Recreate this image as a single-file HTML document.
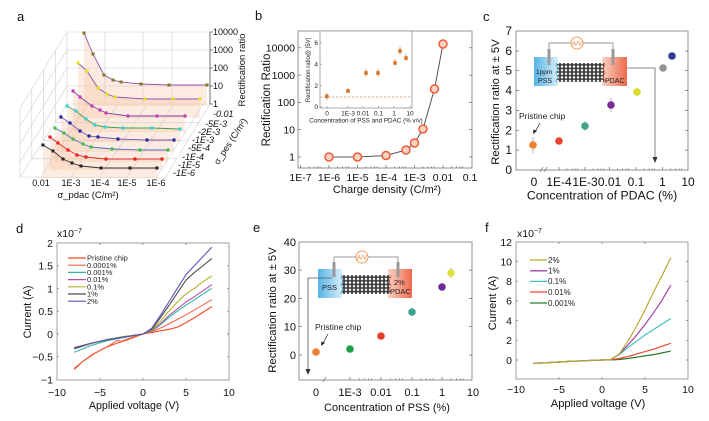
<!DOCTYPE html>
<html><head><meta charset="utf-8"><style>
html,body{margin:0;padding:0;background:#fff;}
svg{display:block;font-family:"Liberation Sans",Arial,sans-serif;}
</style></head><body>
<svg width="709" height="421" viewBox="0 0 709 421" xmlns="http://www.w3.org/2000/svg">
<defs>
<pattern id="hex" width="4" height="3.6" patternUnits="userSpaceOnUse">
<rect width="4" height="3.6" fill="#3a3a3a"/>
<circle cx="2" cy="1.8" r="1.25" fill="#f4f4f4"/>
</pattern>
<linearGradient id="bg" x1="0" x2="1" y1="0" y2="0"><stop offset="0" stop-color="#55b4e6"/><stop offset="1" stop-color="#d8eef9"/></linearGradient>
<linearGradient id="rg" x1="0" x2="1" y1="0" y2="0"><stop offset="0" stop-color="#fbd2c4"/><stop offset="1" stop-color="#ee6a4c"/></linearGradient>
</defs>
<rect width="709" height="421" fill="#fff"/>

<!-- panel letters -->
<g font-size="13" fill="#111">
<text x="17" y="21">a</text>
<text x="255" y="20">b</text>
<text x="483" y="21">c</text>
<text x="16" y="233">d</text>
<text x="253" y="232">e</text>
<text x="485" y="232">f</text>
</g>

<!-- ================= PANEL A ================= -->
<g stroke="#cfcfcf" stroke-width="0.6" fill="none">
<path d="M67 32H210M67 50H210M67 68H210M67 86H210M67 104H210"/>
<path d="M67 32V104M105 32V104M143 32V104M172 32V104M210 32V104"/>
<path d="M67 32L20 108M67 50L20 126M67 68L20 144M67 86L20 162M67 104L20 177"/>
<path d="M20 108V177M55.3 51V122.3M43.5 70V140.5M31.8 89V158.8"/>
<path d="M20 177L165 178M165 178L210 104"/>
<path d="M41 177L88 104M71 177L118 104M100 177L147 104M127 177L174 104M156 178L203 104"/>
<path d="M55.3 122.3L198.8 122.3M43.5 140.5L187.5 140.5M31.8 158.8L176.3 158.8"/>
</g>
<g fill="#f7c2a2" fill-opacity="0.33">
<polygon points="84,33 93,54 104,75 113,80 121,82 141,84 169,85 207,85 207,106 84,106"/>
<polygon points="78,63 87,71 98,88 107,94 115,97 145,99 173,99 200,99 200,118 78,118"/>
<polygon points="73,91 80,97 92,106 100,110 106,113 128,116 157,116 185,116 185,132 73,132"/>
<polygon points="67,106 76,111 86,119 95,125 105,127 123,128 152,128 180,129 180,142 67,142"/>
<polygon points="61,117 70,123 80,131 89,136 98,137 118,139 147,140 174,140 174,152 61,152"/>
<polygon points="55,128 64,133 73,139 83,144 91,147 112,149 140,150 168,150 168,162 55,162"/>
<polygon points="50,137 58,143 68,150 77,155 86,157 106,159 135,159 162,159 162,170 50,170"/>
<polygon points="43,145 53,151 63,159 72,163 81,166 101,168 130,168 157,168 157,178 43,178"/>
</g>
<path d="M210 32V104M210 32h3M210 50h3M210 68h3M210 86h3M210 104h3" stroke="#555" stroke-width="0.8" fill="none"/>
<g fill="none" stroke-width="0.9">
<polyline stroke="#9a50a8" points="84,33 93,54 104,75 113,80 121,82 141,84 169,85 207,85"/>
<polyline stroke="#9050b0" points="78,63 87,71 98,88 107,94 115,97 145,99 173,99 200,99"/>
<polyline stroke="#8040a8" points="73,91 80,97 92,106 100,110 106,113 128,116 157,116 185,116"/>
<polyline stroke="#40a050" points="67,106 76,111 86,119 95,125 105,127 123,128 152,128 180,129"/>
<polyline stroke="#6a5ac0" points="61,117 70,123 80,131 89,136 98,137 118,139 147,140 174,140"/>
<polyline stroke="#4a6ad0" points="55,128 64,133 73,139 83,144 91,147 112,149 140,150 168,150"/>
<polyline stroke="#e03030" points="50,137 58,143 68,150 77,155 86,157 106,159 135,159 162,159"/>
<polyline stroke="#333" points="43,145 53,151 63,159 72,163 81,166 101,168 130,168 157,168"/>
</g>
<g fill="#7d7a22"><rect x="82.5" y="31.5" width="3" height="3"/><rect x="91.5" y="52.5" width="3" height="3"/><rect x="102.5" y="73.5" width="3" height="3"/><rect x="111.5" y="78.5" width="3" height="3"/><rect x="119.5" y="80.5" width="3" height="3"/><rect x="139.5" y="82.5" width="3" height="3"/><rect x="167.5" y="83.5" width="3" height="3"/><rect x="205.5" y="83.5" width="3" height="3"/></g>
<g fill="#e8e020"><circle cx="78" cy="63" r="1.7"/><circle cx="87" cy="71" r="1.7"/><circle cx="98" cy="88" r="1.7"/><circle cx="107" cy="94" r="1.7"/><circle cx="115" cy="97" r="1.7"/><circle cx="145" cy="99" r="1.7"/><circle cx="173" cy="99" r="1.7"/><circle cx="200" cy="99" r="1.7"/></g>
<g fill="#c040c0"><circle cx="73" cy="91" r="1.7"/><circle cx="80" cy="97" r="1.7"/><circle cx="92" cy="106" r="1.7"/><circle cx="100" cy="110" r="1.7"/><circle cx="106" cy="113" r="1.7"/><circle cx="128" cy="116" r="1.7"/><circle cx="157" cy="116" r="1.7"/><circle cx="185" cy="116" r="1.7"/></g>
<g fill="#40d0d0"><circle cx="67" cy="106" r="1.8"/><circle cx="76" cy="111" r="1.8"/><circle cx="86" cy="119" r="1.8"/><circle cx="95" cy="125" r="1.8"/><circle cx="105" cy="127" r="1.8"/><circle cx="123" cy="128" r="1.8"/><circle cx="152" cy="128" r="1.8"/><circle cx="180" cy="129" r="1.8"/></g>
<g fill="#2a2aa0"><circle cx="61" cy="117" r="1.7"/><circle cx="70" cy="123" r="1.7"/><circle cx="80" cy="131" r="1.7"/><circle cx="89" cy="136" r="1.7"/><circle cx="98" cy="137" r="1.7"/><circle cx="118" cy="139" r="1.7"/><circle cx="147" cy="140" r="1.7"/><circle cx="174" cy="140" r="1.7"/></g>
<g fill="#40c040"><circle cx="55" cy="128" r="1.7"/><circle cx="64" cy="133" r="1.7"/><circle cx="73" cy="139" r="1.7"/><circle cx="83" cy="144" r="1.7"/><circle cx="91" cy="147" r="1.7"/><circle cx="112" cy="149" r="1.7"/><circle cx="140" cy="150" r="1.7"/><circle cx="168" cy="150" r="1.7"/></g>
<g fill="#e82828"><circle cx="50" cy="137" r="1.8"/><circle cx="58" cy="143" r="1.8"/><circle cx="68" cy="150" r="1.8"/><circle cx="77" cy="155" r="1.8"/><circle cx="86" cy="157" r="1.8"/><circle cx="106" cy="159" r="1.8"/><circle cx="135" cy="159" r="1.8"/><circle cx="162" cy="159" r="1.8"/></g>
<g fill="#222"><rect x="41.5" y="143.5" width="3" height="3"/><rect x="51.5" y="149.5" width="3" height="3"/><rect x="61.5" y="157.5" width="3" height="3"/><rect x="70.5" y="161.5" width="3" height="3"/><rect x="79.5" y="164.5" width="3" height="3"/><rect x="99.5" y="166.5" width="3" height="3"/><rect x="128.5" y="166.5" width="3" height="3"/><rect x="155.5" y="166.5" width="3" height="3"/></g>
<g font-size="9" fill="#111">
<text x="213" y="35">10000</text><text x="213" y="53">1000</text><text x="213" y="71">100</text><text x="213" y="89">10</text><text x="213" y="107">1</text>
<text x="41" y="186" text-anchor="middle">0.01</text><text x="71" y="186" text-anchor="middle">1E-3</text><text x="100" y="186" text-anchor="middle">1E-4</text><text x="127" y="186" text-anchor="middle">1E-5</text><text x="156" y="186" text-anchor="middle">1E-6</text>
<g font-style="italic">
<text x="213" y="117">-0.01</text><text x="205" y="127">-5E-3</text><text x="198" y="135">-2E-3</text><text x="192" y="143">-1E-3</text><text x="188" y="151">-5E-4</text><text x="182" y="160">-1E-4</text><text x="178" y="168">-1E-5</text><text x="173" y="176">-1E-6</text>
</g>
<text x="88" y="198" text-anchor="middle" font-size="9.5">σ_pdac (C/m²)</text>
<text transform="translate(245,70) rotate(-90)" text-anchor="middle" font-size="9.5">Rectification ratio</text>
<text transform="translate(233,143) rotate(-57)" text-anchor="middle" font-size="9">σ_pes (C/m²)</text>
</g>

<!-- ================= PANEL B ================= -->
<rect x="298" y="31" width="174" height="137" fill="none" stroke="#777" stroke-width="0.8"/>
<g stroke="#666" stroke-width="0.7">
<path d="M298 47.8h3M298 75.1h3M298 102.4h3M298 129.7h3M298 157h3M469 47.8h3M469 75.1h3M469 102.4h3M469 129.7h3M469 157h3"/>
<path d="M300.5 168v-3M329 168v-3M357.5 168v-3M386 168v-3M414.5 168v-3M443 168v-3"/>
<path d="M309 168v-1.5M314 168v-1.5M317.5 168v-1.5M320 168v-1.5M337.5 168v-1.5M342.5 168v-1.5M346 168v-1.5M348.5 168v-1.5M366 168v-1.5M371 168v-1.5M374.5 168v-1.5M377 168v-1.5M394.5 168v-1.5M399.5 168v-1.5M403 168v-1.5M405.5 168v-1.5M423 168v-1.5M428 168v-1.5M431.5 168v-1.5M434 168v-1.5M451.5 168v-1.5M456.5 168v-1.5M460 168v-1.5M462.5 168v-1.5"/>
</g>
<polyline fill="none" stroke="#555" stroke-width="1" points="329,157 357.5,157 386,155.5 406,150 414.5,143 423,129 434.5,89 443,44"/>
<g fill="#fbd3c3" stroke="#f05a3a" stroke-width="1.5">
<circle cx="329" cy="157" r="4"/><circle cx="357.5" cy="157" r="4"/><circle cx="386" cy="155.5" r="4"/><circle cx="406" cy="150" r="4"/><circle cx="414.5" cy="143" r="4"/><circle cx="423" cy="129" r="4"/><circle cx="434.5" cy="89" r="4"/><circle cx="443" cy="44" r="4"/>
</g>
<g font-size="10.5" fill="#111">
<text x="295" y="51.5" text-anchor="end">10000</text><text x="295" y="78.8" text-anchor="end">1000</text><text x="295" y="106" text-anchor="end">100</text><text x="295" y="133.4" text-anchor="end">10</text><text x="295" y="160.7" text-anchor="end">1</text>
<text x="300.5" y="181" text-anchor="middle">1E-7</text><text x="329" y="181" text-anchor="middle">1E-6</text><text x="357.5" y="181" text-anchor="middle">1E-5</text><text x="386" y="181" text-anchor="middle">1E-4</text><text x="414.5" y="181" text-anchor="middle">1E-3</text><text x="443" y="181" text-anchor="middle">0.01</text><text x="470" y="181" text-anchor="middle">0.1</text>
<text x="387" y="193" text-anchor="middle" font-size="11">Charge density (C/m²)</text>
<text transform="translate(270,100) rotate(-90)" text-anchor="middle" font-size="11.5">Rectification Ratio</text>
</g>
<!-- inset b -->
<rect x="320" y="31" width="92" height="77" fill="#fff" stroke="#888" stroke-width="0.7"/>
<path d="M320 97H412" stroke="#c9967a" stroke-width="0.8" stroke-dasharray="2.5,1.5"/>
<g stroke="#888" stroke-width="0.6"><path d="M320 107h2M320 85.6h2M320 64.2h2M320 42.8h2M327 108v-2M348 108v-2M363 108v-2M378.5 108v-2M394 108v-2M410 108v-2"/></g>
<g stroke="#999" stroke-width="0.8">
<path d="M327 93v7M348 88v5M366 69v8M378 69v8M395 59v6M400 47v8M406 54v7"/>
</g>
<g fill="#e0741e">
<rect x="325" y="94.5" width="3.6" height="3.6"/><rect x="346.2" y="89.2" width="3.6" height="3.6"/><rect x="364.2" y="71.2" width="3.6" height="3.6"/><rect x="376.2" y="71.2" width="3.6" height="3.6"/><rect x="393.2" y="61.2" width="3.6" height="3.6"/><rect x="398.2" y="49.2" width="3.6" height="3.6"/><rect x="404.2" y="56.2" width="3.6" height="3.6"/>
</g>
<g font-size="6.5" fill="#222">
<text x="318" y="109" text-anchor="end">0</text><text x="318" y="87.8" text-anchor="end">2</text><text x="318" y="66.4" text-anchor="end">4</text><text x="318" y="45" text-anchor="end">6</text>
<text x="327" y="115.5" text-anchor="middle">0</text><text x="348" y="115.5" text-anchor="middle">1E-3</text><text x="363" y="115.5" text-anchor="middle">0.01</text><text x="378.5" y="115.5" text-anchor="middle">0.1</text><text x="394" y="115.5" text-anchor="middle">1</text><text x="410" y="115.5" text-anchor="middle">10</text>
<text x="366" y="122.5" text-anchor="middle" font-size="6.3">Concentration of PSS and PDAC (% v/v)</text>
<text transform="translate(310,70) rotate(-90)" text-anchor="middle" font-size="6">Rectification ratio@ |5V|</text>
</g>

<!-- ================= PANEL C ================= -->
<rect x="516" y="31" width="172" height="139" fill="none" stroke="#777" stroke-width="0.8"/>
<g stroke="#666" stroke-width="0.7">
<path d="M516 51h3M516 70.7h3M516 90.6h3M516 110.4h3M516 130.3h3M516 150.1h3M685 51h3M685 70.7h3M685 90.6h3M685 110.4h3M685 130.3h3M685 150.1h3"/>
<path d="M559 170v-3M585 170v-3M609.5 170v-3M636 170v-3M662.5 170v-3"/>
<path d="M567 170v-1.5M572 170v-1.5M575 170v-1.5M577.5 170v-1.5M593 170v-1.5M598 170v-1.5M601 170v-1.5M603.5 170v-1.5M617.5 170v-1.5M622.5 170v-1.5M626 170v-1.5M628.5 170v-1.5M644 170v-1.5M649 170v-1.5M652 170v-1.5M654.5 170v-1.5M670.5 170v-1.5M675.5 170v-1.5M679 170v-1.5M681.5 170v-1.5"/>
</g>
<path d="M540 172l3-5M544 172l3-5" stroke="#666" stroke-width="0.7"/>
<g stroke="#aaa" stroke-width="0.9"><path d="M533 137v16M559 138v6M585 121v10M611 98v14M637 88v8M663 65v6"/></g>
<circle cx="533" cy="145" r="3.8" fill="#f0802c"/>
<circle cx="559" cy="141" r="3.8" fill="#e8452c"/>
<circle cx="585" cy="126" r="3.8" fill="#3ea58a"/>
<circle cx="611" cy="105" r="3.8" fill="#7a2d98"/>
<circle cx="637" cy="92" r="3.8" fill="#d8dc2c"/>
<circle cx="663" cy="68" r="3.8" fill="#929292"/>
<circle cx="672" cy="56" r="3.8" fill="#34358f"/>
<!-- inset c -->
<rect x="534" y="57" width="24" height="29" fill="url(#bg)"/>
<rect x="602" y="57" width="25" height="29" fill="url(#rg)"/>
<rect x="557" y="63" width="47" height="19" fill="url(#hex)"/>
<path d="M557 63q-2 2 0 4q2 2 0 4q-2 2 0 4q2 2 0 4q-2 2 0 3" stroke="#3a9fd6" stroke-width="0.8" fill="none"/>
<path d="M604 63q2 2 0 4q-2 2 0 4q2 2 0 4q-2 2 0 4q2 2 0 3" stroke="#e0583c" stroke-width="0.8" fill="none"/>
<polyline points="549,50 549,43 571,43" fill="none" stroke="#777" stroke-width="0.7"/>
<polyline points="583,43 613,43 613,50" fill="none" stroke="#777" stroke-width="0.7"/>
<circle cx="577" cy="43" r="6" fill="#fff" stroke="#f08030" stroke-width="0.8"/>
<text x="577" y="45.3" font-size="6" fill="#f07a24" text-anchor="middle">A/V</text>
<rect x="547.5" y="49" width="3" height="16" fill="#999"/>
<rect x="611.5" y="49" width="3" height="16" fill="#999"/>
<g font-size="7" fill="#222"><text x="536" y="74" font-size="6.5">1ppm</text><text x="538" y="83">PSS</text><text x="605" y="83">PDAC</text></g>
<polyline points="627,68 655,68 655,158" fill="none" stroke="#666" stroke-width="0.8"/>
<polygon points="652.5,157 657.5,157 655,163" fill="#333"/>
<text x="519" y="119" font-size="8.5" fill="#222">Pristine chip</text>
<path d="M540 123L535 132" stroke="#222" stroke-width="0.7"/><polygon points="533,134 533.5,129.5 537,131" fill="#222"/>
<g font-size="12" fill="#111">
<text x="512" y="35" text-anchor="end">7</text><text x="512" y="55" text-anchor="end">6</text><text x="512" y="74.7" text-anchor="end">5</text><text x="512" y="94.6" text-anchor="end">4</text><text x="512" y="114.4" text-anchor="end">3</text><text x="512" y="134.3" text-anchor="end">2</text><text x="512" y="154.1" text-anchor="end">1</text><text x="512" y="174" text-anchor="end">0</text>
<text x="534" y="186" text-anchor="middle">0</text><text x="559" y="186" text-anchor="middle">1E-4</text><text x="585" y="186" text-anchor="middle">1E-3</text><text x="609.5" y="186" text-anchor="middle">0.01</text><text x="636" y="186" text-anchor="middle">0.1</text><text x="662.5" y="186" text-anchor="middle">1</text><text x="688" y="186" text-anchor="middle">10</text>
<text x="602" y="199.5" text-anchor="middle" font-size="12.3">Concentration of PDAC (%)</text>
<text transform="translate(499,102) rotate(-90)" text-anchor="middle" font-size="11.3">Rectification ratio at ± 5V</text>
</g>

<!-- ================= PANEL D ================= -->
<rect x="57" y="243" width="172" height="137" fill="none" stroke="#888" stroke-width="0.8"/>
<g stroke="#777" stroke-width="0.7">
<path d="M57 265.8h2M57 288.7h2M57 311.2h2M57 334h2M57 356.8h2M227 265.8h2M227 288.7h2M227 311.2h2M227 334h2M227 356.8h2"/>
<path d="M100 380v-2M143 380v-2M186 380v-2M100 243v2M143 243v2M186 243v2"/>
</g>
<g fill="none" stroke-width="1.1">
<polyline stroke="#f04a22" points="74.2,369.6 82.8,361.4 91.4,355.5 100,350.4 108.6,346.3 117.2,343.1 125.8,340.4 134.4,337.2 143,334 151.6,332.6 160.2,330.8 168.8,329.4 177.4,327.1 186,322.6 194.6,317.6 203.2,312.1 211.8,306.6"/>
<polyline stroke="#f26448" points="74.2,368.3 82.8,361.4 91.4,355 100,350.4 108.6,345.9 112.9,343.1 117.2,340.4 121.5,341.3 125.8,339.5 134.4,336.7 143,334 151.6,331.7 160.2,328.1 168.8,324 177.4,319.4 186,314.8 194.6,309.8 203.2,304.8 211.8,299.7"/>
<polyline stroke="#30b8a6" points="74.2,352.3 91.4,345.4 108.6,340.4 125.8,337.2 143,334 151.6,331.3 160.2,324.9 168.8,317.6 177.4,311.2 186,305.2 194.6,299.7 203.2,293.8 211.8,288.3"/>
<polyline stroke="#b050b0" points="74.2,349 91.4,343.5 108.6,339.5 125.8,336.7 143,334 151.6,330.8 160.2,324 168.8,315.7 177.4,308.9 186,302 194.6,296.6 203.2,290.6 211.8,284.7"/>
<polyline stroke="#bab230" points="74.2,349 91.4,343.5 108.6,339 125.8,336.2 143,334 151.6,330.3 160.2,321.7 168.8,311.2 177.4,302 186,293.8 194.6,288.3 203.2,281.5 211.8,276"/>
<polyline stroke="#4a4a4a" points="74.2,347.7 91.4,343.1 108.6,339.5 125.8,336.7 143,334 151.6,329.4 160.2,318 168.8,305.7 177.4,292.9 186,280.1 194.6,272.3 203.2,265.5 211.8,258.6"/>
<polyline stroke="#5656b6" points="74.2,348.6 91.4,343.1 108.6,339.5 125.8,336.7 143,334 151.6,328.5 160.2,315.7 168.8,302 177.4,288.3 186,274.6 194.6,265.5 203.2,256.4 211.8,247.2"/>
</g>
<g stroke-width="1.2">
<path d="M68 258H86" stroke="#f04a22"/><path d="M68 265.2H86" stroke="#f26448"/><path d="M68 272.4H86" stroke="#30b8a6"/><path d="M68 279.6H86" stroke="#b050b0"/><path d="M68 286.8H86" stroke="#bab230"/><path d="M68 294H86" stroke="#4a4a4a"/><path d="M68 301.2H86" stroke="#5656b6"/>
</g>
<g font-size="7.5" fill="#222">
<text x="87" y="260.6">Pristine chip</text><text x="87" y="267.8">0.0001%</text><text x="87" y="275">0.001%</text><text x="87" y="282.2">0.01%</text><text x="87" y="289.4">0.1%</text><text x="87" y="296.6">1%</text><text x="87" y="303.8">2%</text>
</g>
<g font-size="10.5" fill="#111">
<text x="57" y="237">x10<tspan font-size="7" dy="-4">−7</tspan></text>
<text x="53" y="247" text-anchor="end">2</text><text x="53" y="269.6" text-anchor="end">1.5</text><text x="53" y="292.4" text-anchor="end">1</text><text x="53" y="315" text-anchor="end">0.5</text><text x="53" y="337.8" text-anchor="end">0</text><text x="53" y="360.6" text-anchor="end">−0.5</text><text x="53" y="383.5" text-anchor="end">−1</text>
<text x="57" y="396" text-anchor="middle">−10</text><text x="100" y="396" text-anchor="middle">−5</text><text x="143" y="396" text-anchor="middle">0</text><text x="186" y="396" text-anchor="middle">5</text><text x="229" y="396" text-anchor="middle">10</text>
<text x="134" y="409" text-anchor="middle" font-size="10.7">Applied voltage (V)</text>
<text transform="translate(31,312) rotate(-90)" text-anchor="middle" font-size="10.7">Current (A)</text>
</g>

<!-- ================= PANEL E ================= -->
<rect x="299" y="242" width="173" height="138" fill="none" stroke="#777" stroke-width="0.8"/>
<g stroke="#666" stroke-width="0.7">
<path d="M299 270.1h3M299 298.4h3M299 326.7h3M299 355h3M469 270.1h3M469 298.4h3M469 326.7h3M469 355h3"/>
<path d="M350 380v-3M381 380v-3M412 380v-3M442 380v-3"/>
<path d="M359.3 380v-1.5M364.8 380v-1.5M368.5 380v-1.5M371.5 380v-1.5M390.3 380v-1.5M395.8 380v-1.5M399.5 380v-1.5M402.5 380v-1.5M421 380v-1.5M426.5 380v-1.5M430.2 380v-1.5M433 380v-1.5M451 380v-1.5M456.5 380v-1.5M460.2 380v-1.5M463 380v-1.5"/>
</g>
<path d="M323 382l3-5" stroke="#666" stroke-width="0.7"/>
<g stroke="#aaa" stroke-width="0.9"><path d="M412 308v8M451 268v10"/></g>
<circle cx="316" cy="352" r="3.8" fill="#f0802c"/>
<circle cx="350" cy="349" r="3.8" fill="#1fa048"/>
<circle cx="381" cy="336" r="3.8" fill="#e0402a"/>
<circle cx="412" cy="312" r="3.8" fill="#3ea58a"/>
<circle cx="442" cy="287" r="3.8" fill="#6e2a96"/>
<circle cx="451" cy="273" r="3.8" fill="#e0e23c"/>
<!-- inset e -->
<rect x="318" y="269" width="24" height="29" fill="url(#bg)"/>
<rect x="388" y="269" width="24" height="29" fill="url(#rg)"/>
<rect x="342" y="275" width="48" height="19" fill="url(#hex)"/>
<path d="M342 275q-2 2 0 4q2 2 0 4q-2 2 0 4q2 2 0 4q-2 2 0 3" stroke="#3a9fd6" stroke-width="0.8" fill="none"/>
<path d="M390 275q2 2 0 4q-2 2 0 4q2 2 0 4q-2 2 0 4q2 2 0 3" stroke="#e0583c" stroke-width="0.8" fill="none"/>
<polyline points="334,263 334,257 356,257" fill="none" stroke="#777" stroke-width="0.7"/>
<polyline points="368,257 398,257 398,263" fill="none" stroke="#777" stroke-width="0.7"/>
<circle cx="362" cy="257" r="6" fill="#fff" stroke="#f08030" stroke-width="0.8"/>
<text x="362" y="259.3" font-size="6" fill="#f07a24" text-anchor="middle">A/V</text>
<rect x="332.5" y="262" width="3" height="15" fill="#999"/>
<rect x="396.5" y="262" width="3" height="15" fill="#999"/>
<polyline points="332,278 308,278 308,370" fill="none" stroke="#555" stroke-width="0.8"/>
<polygon points="305.5,369 310.5,369 308,375" fill="#333"/>
<g font-size="7.5" fill="#222"><text x="322" y="290">PSS</text><text x="394" y="285">2%</text><text x="390" y="294">PDAC</text></g>
<text x="315" y="330" font-size="8.5" fill="#222">Pristine chip</text>
<path d="M328 334L323 343" stroke="#222" stroke-width="0.7"/><polygon points="321,346 321.5,341.5 325,343" fill="#222"/>
<g font-size="11" fill="#111">
<text x="296" y="246" text-anchor="end">40</text><text x="296" y="274" text-anchor="end">30</text><text x="296" y="302.4" text-anchor="end">20</text><text x="296" y="330.7" text-anchor="end">10</text><text x="296" y="359" text-anchor="end">0</text>
<text x="316" y="396" text-anchor="middle">0</text><text x="350" y="396" text-anchor="middle">1E-3</text><text x="381" y="396" text-anchor="middle">0.01</text><text x="412" y="396" text-anchor="middle">0.1</text><text x="442" y="396" text-anchor="middle">1</text><text x="473" y="396" text-anchor="middle">10</text>
<text x="387" y="411" text-anchor="middle">Concentration of PSS (%)</text>
<text transform="translate(276,310) rotate(-90)" text-anchor="middle" font-size="11.3">Rectification ratio at ± 5V</text>
</g>

<!-- ================= PANEL F ================= -->
<rect x="516" y="242" width="172" height="137" fill="none" stroke="#888" stroke-width="0.8"/>
<g stroke="#777" stroke-width="0.7">
<path d="M516 261.5h2M516 281.2h2M516 300.9h2M516 320.6h2M516 340.3h2M516 360h2M686 261.5h2M686 281.2h2M686 300.9h2M686 320.6h2M686 340.3h2M686 360h2"/>
<path d="M559 379v-2M602 379v-2M645 379v-2M559 242v2M602 242v2M645 242v2"/>
</g>
<g fill="none" stroke-width="1.2">
<polyline stroke="#2c7a2c" points="533.2,363.4 550.4,362.5 567.6,361.5 584.8,360.7 602,360 610.6,359.9 619.2,359.5 627.8,358.5 636.4,357.2 645,355.9 653.6,354.6 662.2,352.9 670.8,351.1"/>
<polyline stroke="#f04432" points="533.2,363.4 550.4,362.5 567.6,361.5 584.8,360.7 602,360 610.6,359.8 619.2,358.5 627.8,356.6 636.4,354.1 645,351.6 653.6,349.2 662.2,346.2 670.8,343.3"/>
<polyline stroke="#40c0c0" points="533.2,363.4 550.4,362.5 567.6,361.5 584.8,360.7 602,360 610.6,359.5 619.2,354.6 627.8,347.7 636.4,341.3 645,334.9 653.6,329.5 662.2,324 670.8,318.6"/>
<polyline stroke="#a444aa" points="533.2,363.4 550.4,362.5 567.6,361.5 584.8,360.7 602,360 610.6,359.5 619.2,354.1 627.8,345.2 636.4,335.4 645,324.5 653.6,312.7 662.2,299.9 670.8,285.1"/>
<polyline stroke="#b8ac30" points="533.2,363.4 550.4,362.5 567.6,361.5 584.8,360.7 602,360 610.6,359.5 619.2,354.1 627.8,341.3 636.4,326.5 645,309.8 653.6,292 662.2,275.3 670.8,257.6"/>
</g>
<g stroke-width="1.3">
<path d="M530 260H547" stroke="#b8ac30"/><path d="M530 270.8H547" stroke="#a444aa"/><path d="M530 281.4H547" stroke="#40c0c0"/><path d="M530 292H547" stroke="#f04432"/><path d="M530 303H547" stroke="#2c7a2c"/>
</g>
<g font-size="8" fill="#222">
<text x="548" y="262.8">2%</text><text x="548" y="273.6">1%</text><text x="548" y="284.2">0.1%</text><text x="548" y="294.8">0.01%</text><text x="548" y="305.8">0.001%</text>
</g>
<g font-size="10.5" fill="#111">
<text x="517" y="237">x10<tspan font-size="7" dy="-4">−7</tspan></text>
<text x="512" y="246" text-anchor="end">12</text><text x="512" y="265.3" text-anchor="end">10</text><text x="512" y="285" text-anchor="end">8</text><text x="512" y="304.7" text-anchor="end">6</text><text x="512" y="324.4" text-anchor="end">4</text><text x="512" y="344.1" text-anchor="end">2</text><text x="512" y="363.8" text-anchor="end">0</text>
<text x="516" y="393" text-anchor="middle">−10</text><text x="559" y="393" text-anchor="middle">−5</text><text x="602" y="393" text-anchor="middle">0</text><text x="645" y="393" text-anchor="middle">5</text><text x="688" y="393" text-anchor="middle">10</text>
<text x="598" y="407" text-anchor="middle" font-size="11.2">Applied voltage (V)</text>
<text transform="translate(496,303) rotate(-90)" text-anchor="middle" font-size="11">Current (A)</text>
</g>
</svg>
</body></html>
